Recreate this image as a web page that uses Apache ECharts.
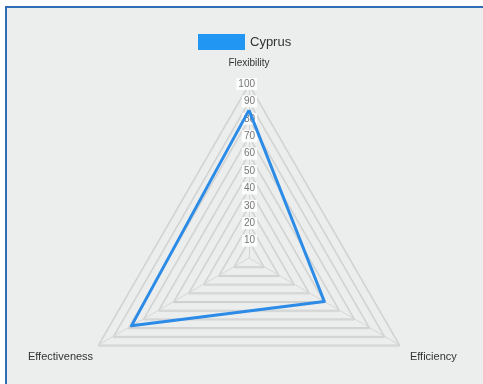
<!DOCTYPE html>
<html>
<head>
<meta charset="utf-8">
<script src="https://cdn.jsdelivr.net/npm/echarts@6/dist/echarts.min.js"></script>
<style>
html,body{margin:0;padding:0;background:#fff;width:483px;height:384px;overflow:hidden;}
#bg{position:absolute;left:5px;top:6px;width:490px;height:390px;background:#eceeee;border-left:2px solid #2f6db5;border-top:2px solid #2f6db5;}
#chart{position:absolute;left:0;top:0;width:483px;height:384px;}
</style>
</head>
<body>
<div id="bg"></div>
<div id="chart"></div>
<script>
// drawn counter-clockwise from the top
const indicators = ['Flexibility', 'Effectiveness', 'Efficiency'];
const maxValue = 100;
const seriesName = 'Cyprus';
const values = [85, 78, 50];

const chart = echarts.init(document.getElementById('chart'));
chart.setOption({
  animation: false,
  backgroundColor: 'transparent',
  textStyle: { fontFamily: 'Liberation Sans, Arial, sans-serif' },
  legend: {
    top: 29, left: 193,
    itemWidth: 47, itemHeight: 16, itemGap: 10,
    icon: 'rect',
    textStyle: { fontSize: 13, color: '#333' },
    data: [seriesName]
  },
  radar: {
    center: [249, 258],
    radius: 174,
    startAngle: 90,
    splitNumber: 10,
    shape: 'polygon',
    nameGap: 6,
    axisName: {
      color: '#333', fontSize: 11,
      formatter: function (n) {
        if (n === 'Flexibility') return '{t|' + n + '}';
        if (n === 'Efficiency') return '{r|' + n + '}';
        return '{b|' + n + '}';
      },
      rich: {
        t: { fontSize: 10, color: '#333', padding: [0, 0, 10, 0] },
        b: { fontSize: 11, color: '#333', padding: [18, 0, 0, 0] },
        r: { fontSize: 11, color: '#333', padding: [18, 0, 0, 5] }
      }
    },
    indicator: indicators.map(function (n, i) {
      const o = { name: n, max: maxValue, min: 0 };
      if (i === 0) {
        o.axisLabel = {
          show: true, showMinLabel: false, color: '#777', fontSize: 10,
          backgroundColor: 'rgba(255,255,255,0.85)', padding: [1, 2],
          margin: -8
        };
      }
      return o;
    }),
    axisLabel: { show: false },
    splitArea: { show: false },
    splitLine: { lineStyle: { color: '#cfcfcf', width: 1, shadowColor: 'rgba(0,0,0,0.15)', shadowBlur: 1, shadowOffsetY: 1 } },
    axisLine: { lineStyle: { color: '#d5d5d5' } }
  },
  series: [{
    type: 'radar',
    name: seriesName,
    symbol: 'none',
    color: '#2b8be6',
    lineStyle: { width: 3, color: '#2b8be6' },
    itemStyle: { color: '#2196f3' },
    data: [{ value: values, name: seriesName }]
  }]
});
</script>
</body>
</html>
